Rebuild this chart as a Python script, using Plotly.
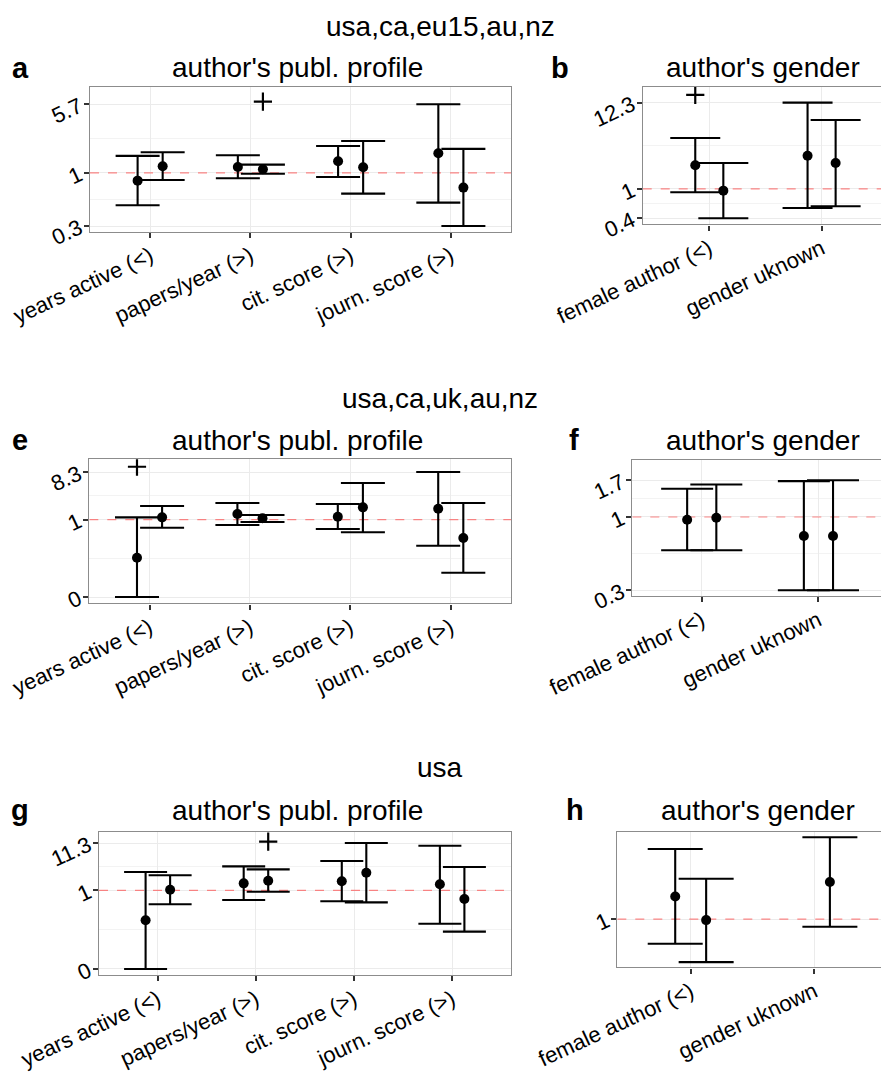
import math
import plotly.graph_objects as go

W, H = 881, 1075

# ---------------- data ----------------
profile_cats = ["years active (<)", "papers/year (>)", "cit. score (>)", "journ. score (>)"]
gender_cats = ["female author (<)", "gender uknown"]

group_titles = ["usa,ca,eu15,au,nz", "usa,ca,uk,au,nz", "usa"]
profile_title = "author's publ. profile"
gender_title = "author's gender"

# panel a (usa,ca,eu15,au,nz - profile)
a_est1 = [0.823, 1.164, 1.345, 1.646]
a_lo1 = [0.441, 0.874, 0.904, 0.472]
a_hi1 = [1.54, 1.565, 1.98, 5.69]
a_est2 = [1.185, 1.098, 1.155, 0.69]
a_lo2 = [0.838, 0.98, 0.592, 0.261]
a_hi2 = [1.69, 1.234, 2.25, 1.84]
a_plus = [None, 6.08, None, None]          # marker on series 2
a_ticklabels = ["0.3", "1", "5.7"]

# panel b (usa,ca,eu15,au,nz - gender)
b_est1 = [1.99, 2.63]
b_lo1 = [0.908, 0.576]
b_hi1 = [4.41, 12.3]
b_est2 = [0.953, 2.13]
b_lo2 = [0.426, 0.604]
b_hi2 = [2.13, 7.43]
b_plus = [15.4, None]                      # marker on series 1
b_ticklabels = ["0.4", "1", "12.3"]

# panel e (usa,ca,uk,au,nz - profile)
e_est1 = [0.185, 1.288, 1.142, 1.63]
e_lo1 = [0.0324, 0.79, 0.662, 0.316]
e_hi1 = [1.11, 2.10, 2.01, 8.3]
e_est2 = [1.11, 1.064, 1.73, 0.444]
e_lo2 = [0.701, 0.903, 0.572, 0.095]
e_hi2 = [1.84, 1.23, 5.09, 2.10]
e_plus = [10.5, None, None, None]          # marker on series 1
e_ticklabels = ["0", "1", "8.3"]

# panel f (usa,ca,uk,au,nz - gender)
f_est1 = [0.962, 0.76]
f_lo1 = [0.618, 0.347]
f_hi1 = [1.505, 1.68]
f_est2 = [0.99, 0.76]
f_lo2 = [0.618, 0.347]
f_hi2 = [1.60, 1.70]
f_plus = [None, None]
f_ticklabels = ["0.3", "1", "1.7"]

# panel g (usa - profile)
g_est1 = [0.215, 1.43, 1.59, 1.36]
g_lo1 = [0.0177, 0.608, 0.569, 0.18]
g_hi1 = [2.55, 3.42, 4.49, 9.83]
g_est2 = [1.03, 1.636, 2.46, 0.64]
g_lo2 = [0.488, 0.93, 0.54, 0.12]
g_hi2 = [2.16, 2.93, 11.3, 3.3]
g_plus = [None, 12.1, None, None]          # marker on series 2
g_ticklabels = ["0", "1", "11.3"]

# panel h (usa - gender)
h_est1 = [1.76, None]
h_lo1 = [0.54, None]
h_hi1 = [5.75, None]
h_est2 = [0.975, 2.52]
h_lo2 = [0.341, 0.825]
h_hi2 = [2.74, 7.7]
h_plus = [None, None]
h_ticklabels = ["1"]

reference_value = 1

# ---------------- layout geometry (pixels) ----------------
FONT = "Liberation Sans, Arial, Helvetica, sans-serif"

panels = [
    dict(n=1, letter="a", cats=profile_cats, s1=(a_est1, a_lo1, a_hi1), s2=(a_est2, a_lo2, a_hi2),
         plus=a_plus, plus_series=2, tl=a_ticklabels, box=(90, 511, 87, 231.7),
         xr=(-0.6, 3.6), yr=(0.226, 8.82), cap=22, title=profile_title, tx=297, lx=20, ty=68, mirror=True),
    dict(n=2, letter="b", cats=gender_cats, s1=(b_est1, b_lo1, b_hi1), s2=(b_est2, b_lo2, b_hi2),
         plus=b_plus, plus_series=1, tl=b_ticklabels, box=(642.7, 881, 87, 224.3),
         xr=(-0.593, 1.529), yr=(0.358, 19.4), cap=25, title=gender_title, tx=763, lx=560, ty=68, mirror=False),
    dict(n=3, letter="e", cats=profile_cats, s1=(e_est1, e_lo1, e_hi1), s2=(e_est2, e_lo2, e_hi2),
         plus=e_plus, plus_series=1, tl=e_ticklabels, box=(89.3, 511, 459.3, 603.3),
         xr=(-0.6, 3.6), yr=(0.0245, 14.6), cap=22, title=profile_title, tx=297, lx=20, ty=440, mirror=True),
    dict(n=4, letter="f", cats=gender_cats, s1=(f_est1, f_lo1, f_hi1), s2=(f_est2, f_lo2, f_hi2),
         plus=f_plus, plus_series=1, tl=f_ticklabels, box=(632.3, 881, 460, 596),
         xr=(-0.595, 1.536), yr=(0.319, 2.28), cap=26, title=gender_title, tx=763, lx=574, ty=440, mirror=False),
    dict(n=5, letter="g", cats=profile_cats, s1=(g_est1, g_lo1, g_hi1), s2=(g_est2, g_lo2, g_hi2),
         plus=g_plus, plus_series=2, tl=g_ticklabels, box=(99, 511, 831.7, 975),
         xr=(-0.6, 3.6), yr=(0.013, 20.2), cap=21.5, title=profile_title, tx=297, lx=20, ty=810, mirror=True),
    dict(n=6, letter="h", cats=gender_cats, s1=(h_est1, h_lo1, h_hi1), s2=(h_est2, h_lo2, h_hi2),
         plus=h_plus, plus_series=1, tl=h_ticklabels, box=(617.3, 881, 831.7, 967.3),
         xr=(-0.593, 1.538), yr=(0.3, 8.86), cap=27.5, title=gender_title, tx=758, lx=575, ty=810, mirror=False),
]

group_y = [26, 398, 767]

fig = go.Figure()
annotations = []
layout_axes = {}

for p in panels:
    n = p["n"]
    xa = "x" if n == 1 else f"x{n}"
    ya = "y" if n == 1 else f"y{n}"
    dodge = 0.125

    # dashed reference line at 1
    fig.add_trace(go.Scatter(
        x=list(p["xr"]), y=[reference_value, reference_value], mode="lines",
        xaxis=xa, yaxis=ya, showlegend=False, hoverinfo="skip",
        line=dict(color="rgba(255,60,60,0.6)", width=1.2, dash="dash"),
    ))

    for si, (est, lo, hi) in ((1, p["s1"]), (2, p["s2"])):
        xs, ys, ep, em = [], [], [], []
        for i, v in enumerate(est):
            if v is None:
                continue
            xs.append(i + (-dodge if si == 1 else dodge))
            ys.append(v)
            ep.append(hi[i] - v)
            em.append(v - lo[i])
        fig.add_trace(go.Scatter(
            x=xs, y=ys, mode="markers", xaxis=xa, yaxis=ya, showlegend=False,
            marker=dict(color="black", size=10),
            error_y=dict(type="data", array=ep, arrayminus=em, symmetric=False,
                         color="black", thickness=2.1, width=p["cap"]),
        ))
    # significance crosses
    px_, py_ = [], []
    for i, v in enumerate(p["plus"]):
        if v is not None:
            px_.append(i + (-dodge if p["plus_series"] == 1 else dodge))
            py_.append(v)
    if px_:
        fig.add_trace(go.Scatter(
            x=px_, y=py_, mode="markers", xaxis=xa, yaxis=ya, showlegend=False,
            marker=dict(symbol="cross-thin", size=13, line=dict(color="black", width=2.2)),
        ))

    # ticks from data
    all_lo = [v for v in p["s1"][1] + p["s2"][1] if v is not None]
    all_hi = [v for v in p["s1"][2] + p["s2"][2] if v is not None]
    if len(p["tl"]) == 3:
        tv = [min(all_lo), reference_value, max(all_hi)]
    else:
        tv = [reference_value]
    minor_tv = [math.sqrt(tv[k] * tv[k + 1]) for k in range(len(tv) - 1)]

    x0, x1, y0, y1 = p["box"]
    key_x = "xaxis" if n == 1 else f"xaxis{n}"
    key_y = "yaxis" if n == 1 else f"yaxis{n}"
    layout_axes[key_x] = dict(
        domain=[x0 / W, min(x1 / W, 1.0)], anchor=ya, range=list(p["xr"]), automargin=False,
        tickmode="array", tickvals=list(range(len(p["cats"]))), ticktext=p["cats"],
        tickangle=-25, tickfont=dict(family=FONT, size=22, color="black"),
        ticks="outside", ticklen=5, tickwidth=1.6, tickcolor="#333333", ticklabelstandoff=-3,
        showgrid=True, gridcolor="#ebebeb", gridwidth=1, zeroline=False,
        showline=True, linecolor="#8c8c8c", linewidth=1.4, mirror=True,
    )
    yax = dict(
        domain=[1 - y1 / H, 1 - y0 / H], anchor=xa, type="log", automargin=False,
        range=[math.log10(p["yr"][0]), math.log10(p["yr"][1])],
        tickmode="array", tickvals=tv, ticktext=p["tl"],
        tickangle=-25, tickfont=dict(family=FONT, size=22, color="black"),
        ticks="outside", ticklen=5, tickwidth=1.6, tickcolor="#333333",
        showgrid=True, gridcolor="#ebebeb", gridwidth=1.2, zeroline=False,
        showline=True, linecolor="#8c8c8c", linewidth=1.4, mirror=p["mirror"],
    )
    if minor_tv:
        yax["minor"] = dict(tickmode="array", tickvals=minor_tv, showgrid=True,
                            gridcolor="#f3f3f3", gridwidth=1, ticks="")
    layout_axes[key_y] = yax

    annotations.append(dict(text=p["title"], x=p["tx"] / W, y=1 - p["ty"] / H, xref="paper", yref="paper",
                            showarrow=False, xanchor="center", yanchor="middle",
                            font=dict(family=FONT, size=28, color="black")))
    annotations.append(dict(text=f"<b>{p['letter']}</b>", x=p["lx"] / W, y=1 - p["ty"] / H,
                            xref="paper", yref="paper", showarrow=False,
                            xanchor="center", yanchor="middle",
                            font=dict(family=FONT, size=29, color="black")))

for t, gy in zip(group_titles, group_y):
    annotations.append(dict(text=t, x=440 / W, y=1 - gy / H, xref="paper", yref="paper",
                            showarrow=False, xanchor="center", yanchor="middle",
                            font=dict(family=FONT, size=28, color="black")))

fig.update_layout(
    width=W, height=H, margin=dict(l=0, r=0, t=0, b=0, pad=0, autoexpand=False),
    paper_bgcolor="white", plot_bgcolor="white",
    showlegend=False, annotations=annotations,
    font=dict(family=FONT),
    **layout_axes,
)

fig.write_html("out.html", config={"displayModeBar": False},
               post_script="document.body.style.margin='0';document.body.style.overflow='hidden';")
